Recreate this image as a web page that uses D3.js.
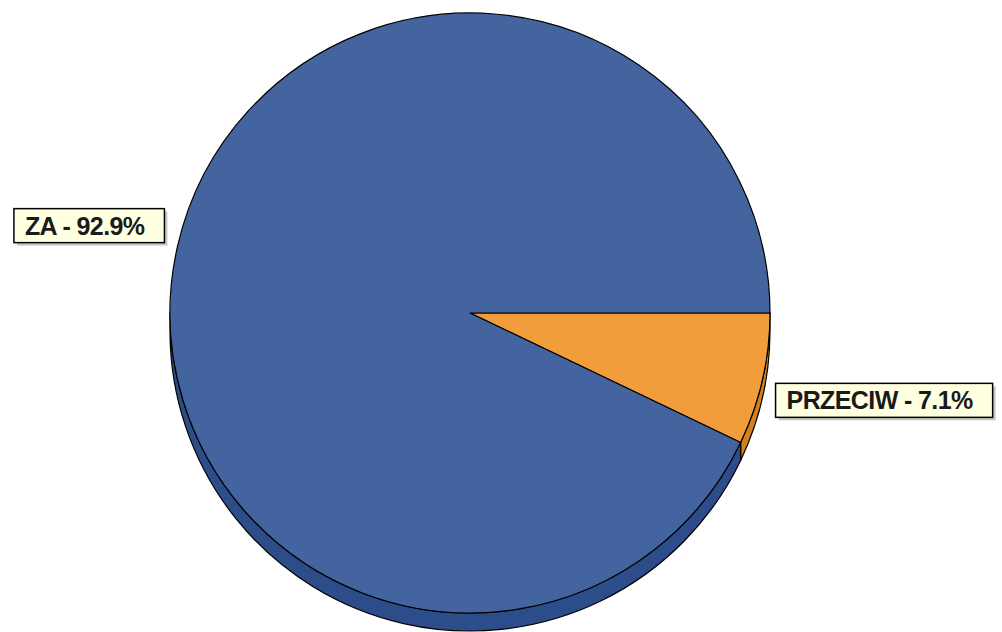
<!DOCTYPE html>
<html>
<head>
<meta charset="utf-8">
<script src="https://cdn.jsdelivr.net/npm/d3@7"></script>
<style>
  body { margin: 0; background: #fff; }
  svg { display: block; }
</style>
</head>
<body>
<svg width="1002" height="632"></svg>
<script>
// data
const labels = ['PRZECIW', 'ZA'];
const values = [7.1, 92.9];
const topColors = ['#f19d3b', '#4464a0'];
const sideColors = ['#d4801f', '#2d4c8a'];

const width = 1002, height = 632;
const cx = 470, cy = 313, r = 300, depth = 18;

const svg = d3.select('svg');

// d3 pie angles: 0 = 12 o'clock, clockwise. Start at 3 o'clock.
const pie = d3.pie().sort(null).value(d => d.v)
  .startAngle(Math.PI / 2).endAngle(Math.PI / 2 + 2 * Math.PI);
const data = labels.map((l, i) => ({ label: l, v: values[i], i: i }));
const arcs = pie(data);

const arc = d3.arc().innerRadius(0).outerRadius(r);

// side wall (only the front half: svg angles 0..PI)
function band(d) {
  // convert to svg angle (0 = 3 o'clock, clockwise)
  let a0 = d.startAngle - Math.PI / 2;
  let a1 = d.endAngle - Math.PI / 2;
  a0 = Math.max(a0, 0);
  a1 = Math.min(a1, Math.PI);
  if (a1 <= a0) return null;
  const p = d3.path();
  p.moveTo(cx + r * Math.cos(a0), cy + r * Math.sin(a0));
  p.arc(cx, cy, r, a0, a1);
  p.lineTo(cx + r * Math.cos(a1), cy + depth + r * Math.sin(a1));
  p.arc(cx, cy + depth, r, a1, a0, true);
  p.closePath();
  return p.toString();
}

svg.append('g').selectAll('path')
  .data(arcs.filter(d => band(d)))
  .enter()
  .append('path')
  .attr('d', band)
  .style('fill', d => sideColors[d.data.i])
  .style('stroke', '#000')
  .style('stroke-width', 1.2)
  .style('stroke-linejoin', 'round');

svg.append('g')
  .attr('transform', `translate(${cx},${cy})`)
  .selectAll('path')
  .data(arcs)
  .enter()
  .append('path')
  .attr('d', arc)
  .style('fill', d => topColors[d.data.i])
  .style('stroke', '#000')
  .style('stroke-width', 1.2)
  .style('stroke-linejoin', 'round');

// labels
const boxH = 34, padL = 11, padR = 20;
const lab = svg.append('g').selectAll('g')
  .data(arcs)
  .enter()
  .append('g');

lab.each(function(d) {
  const g = d3.select(this);
  const mid = (d.startAngle + d.endAngle) / 2 - Math.PI / 2;
  const px = cx + r * Math.cos(mid), py = cy + r * Math.sin(mid);
  const right = Math.cos(mid) > 0;
  const txt = d.data.label + ' - ' + d.data.v.toFixed(1) + '%';

  const t = g.append('text')
    .text(txt)
    .style('font-family', '"Liberation Sans", Arial, sans-serif')
    .style('font-size', '25px')
    .style('font-weight', 'bold')
    .style('letter-spacing', '-0.6px')
    .style('fill', '#1a1a1a');
  const tw = t.node().getComputedTextLength();
  const bw = tw + padL + padR;
  const bx = right ? px + 13 : px - 13 - bw;
  const by = right ? py + 4 : py - 4 - boxH;

  g.insert('rect', 'text')
    .attr('x', bx + 3).attr('y', by + 3)
    .attr('width', bw).attr('height', boxH)
    .style('fill', '#c8c8c8');
  g.insert('rect', 'text')
    .attr('x', bx).attr('y', by)
    .attr('width', bw).attr('height', boxH)
    .style('fill', '#ffffe1')
    .style('stroke', '#000')
    .style('stroke-width', 1.5);
  t.attr('x', bx + padL).attr('y', by + boxH / 2 + 9);
});
</script>
</body>
</html>
